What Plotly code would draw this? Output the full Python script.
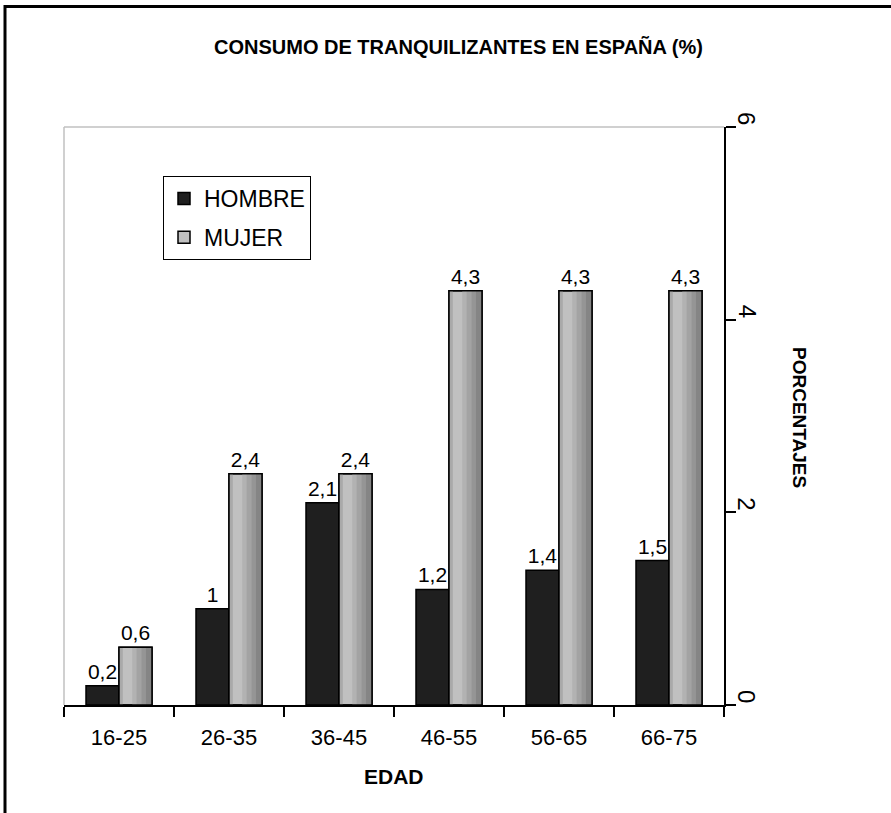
import plotly.graph_objects as go

categories = ["16-25", "26-35", "36-45", "46-55", "56-65", "66-75"]
hombre = [0.2, 1, 2.1, 1.2, 1.4, 1.5]
mujer = [0.6, 2.4, 2.4, 4.3, 4.3, 4.3]
y_ticks = [0, 2, 4, 6]

def fmt(v):
    return ("%g" % v).replace(".", ",")

W, H = 891, 813
L, R, T, B = 64, 724, 127, 705
FONT = "Liberation Sans, Arial, sans-serif"

fig = go.Figure()

# HOMBRE bars
fig.add_trace(go.Bar(
    x=categories, y=hombre, name="HOMBRE", legendgroup="h",
    width=0.3, offset=-0.3,
    marker=dict(color="#1f1f1f", line=dict(color="black", width=1.5)),
    text=[fmt(v) for v in hombre], textposition="outside",
    textfont=dict(size=21, color="black", family=FONT),
    cliponaxis=False, hoverinfo="x+y",
))

# MUJER bars (base, legend entry)
fig.add_trace(go.Bar(
    x=categories, y=mujer, name="MUJER", legendgroup="m",
    width=0.3, offset=0,
    marker=dict(color="#c0c0c0", line=dict(color="black", width=1.5)),
    hoverinfo="x+y",
))
# shading stripes to imitate the cylinder gradient
stripes = [(0.0, 0.035, "#a9a9a9"), (0.12, 0.18, "#b2b2b2"), (0.16, 0.14, "#a3a3a3"),
           (0.205, 0.095, "#959595"), (0.245, 0.055, "#858585")]
for off, wd, col in stripes:
    fig.add_trace(go.Bar(
        x=categories, y=mujer, showlegend=False, legendgroup="m",
        width=wd, offset=off,
        marker=dict(color=col, line=dict(width=0)),
        hoverinfo="skip",
    ))
# outline + labels
fig.add_trace(go.Bar(
    x=categories, y=mujer, showlegend=False, legendgroup="m",
    width=0.3, offset=0,
    marker=dict(color="rgba(0,0,0,0)", line=dict(color="black", width=1.5)),
    text=[fmt(v) for v in mujer], textposition="outside",
    textfont=dict(size=21, color="black", family=FONT),
    cliponaxis=False, hoverinfo="skip",
))

def px_x(x):
    return (x - L) / (R - L)

def px_y(y):
    return (B - y) / (B - T)

# rotated y tick labels (placed on the y scale)
tick_annots = [
    dict(text=str(v), xref="paper", yref="y", x=1, y=v, xshift=23, yshift=9,
         showarrow=False, xanchor="center", yanchor="middle", textangle=90,
         font=dict(size=24, family=FONT, color="black"))
    for v in y_ticks
]

fig.update_layout(
    width=W, height=H,
    margin=dict(l=L, r=W - R, t=T, b=H - B, pad=0),
    paper_bgcolor="white", plot_bgcolor="white",
    barmode="overlay", bargap=0.4,
    font=dict(family=FONT, color="black"),
    showlegend=True,
    legend=dict(
        x=px_x(163), y=px_y(176), xanchor="left", yanchor="top",
        bgcolor="white", bordercolor="black", borderwidth=1,
        font=dict(size=23, family=FONT, color="black"),
        traceorder="grouped", tracegroupgap=6,
        itemwidth=30,
    ),
    xaxis=dict(
        type="category", showline=True, linecolor="black", linewidth=1.5,
        ticks="outside", ticklen=10, tickwidth=1.5, tickcolor="black",
        tickson="boundaries", showgrid=False, zeroline=False,
        tickfont=dict(size=22, family=FONT, color="black"),
        ticklabelstandoff=12,
    ),
    yaxis=dict(
        side="right", range=[0, 6], tickvals=y_ticks,
        showline=True, linecolor="black", linewidth=1.5,
        ticks="outside", ticklen=10, tickwidth=1.5, tickcolor="black",
        showgrid=False, zeroline=False, showticklabels=False,
    ),
    shapes=[
        dict(type="line", xref="paper", yref="paper", x0=0, x1=0, y0=0, y1=1,
             line=dict(color="#c0c0c0", width=1.5)),
        dict(type="line", xref="paper", yref="paper", x0=0, x1=1, y0=1, y1=1,
             line=dict(color="#c0c0c0", width=1.5)),
        dict(type="rect", xref="paper", yref="paper", x0=px_x(5), x1=px_x(W + 30),
             y0=px_y(H + 30), y1=px_y(6.5), line=dict(color="black", width=3),
             fillcolor="rgba(0,0,0,0)"),
    ],
    annotations=[
        dict(text="<b>CONSUMO DE TRANQUILIZANTES EN ESPAÑA (%)</b>", xref="paper", yref="paper",
             x=px_x(458), y=px_y(47), showarrow=False, xanchor="center", yanchor="middle",
             font=dict(size=20, family=FONT, color="black")),
        dict(text="<b>EDAD</b>", xref="paper", yref="paper",
             x=px_x(394), y=px_y(776), showarrow=False, xanchor="center", yanchor="middle",
             font=dict(size=21, family=FONT, color="black")),
        dict(text="<b>PORCENTAJES</b>", xref="paper", yref="paper",
             x=px_x(800), y=px_y(417), showarrow=False, xanchor="center", yanchor="middle",
             textangle=90, font=dict(size=19, family=FONT, color="black")),
    ] + tick_annots,
)

fig.write_html("out.html", config={"displayModeBar": False},
               post_script="document.body.style.margin='0';document.body.style.overflow='hidden';")
